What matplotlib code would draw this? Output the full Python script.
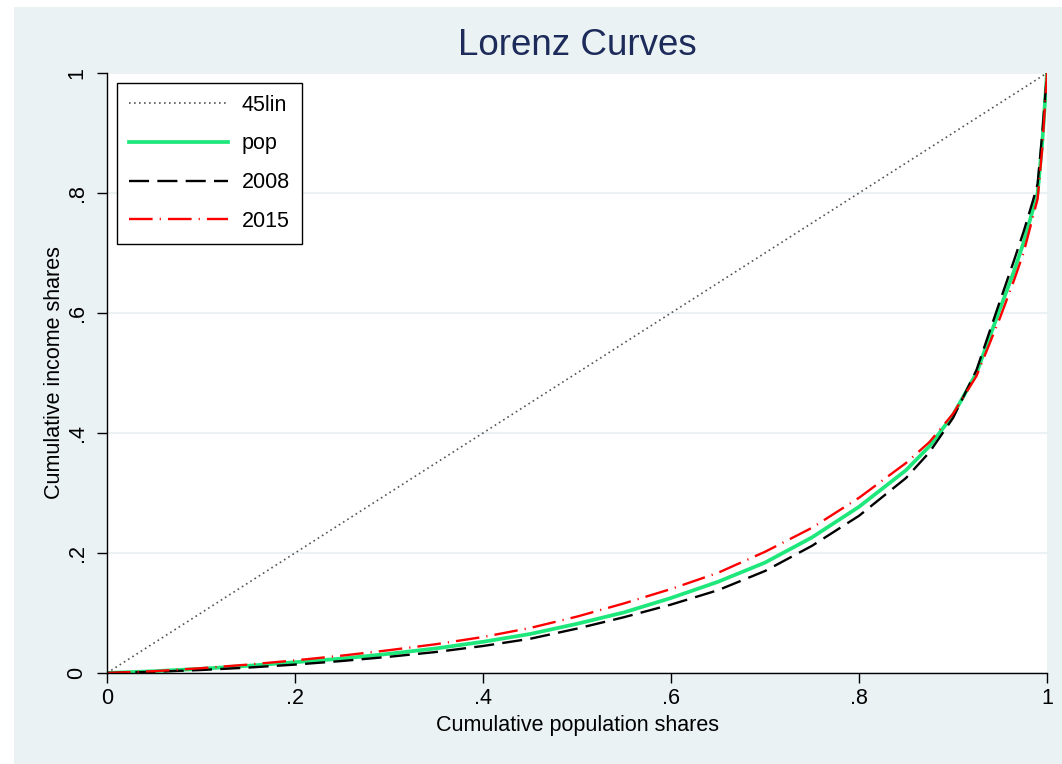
import matplotlib
matplotlib.use("Agg")
import matplotlib.pyplot as plt
from matplotlib.patches import Rectangle

plt.rcParams['font.family'] = ['Liberation Sans', 'DejaVu Sans']

# cumulative population shares (shared grid for all curves)
pop_x = [0, .05, .1, .15, .2, .25, .3, .35, .4, .45, .5, .55, .6, .65, .7,
         .75, .8, .85, .875, .9, .925, .95, .965, .975, .985, .99, .995, 1]
# cumulative income shares
pop = [0, .003, .007, .012, .018, .024, .032, .041, .052, .065, .082, .101, .125, .152, .184,
       .226, .277, .338, .378, .43, .50, .607, .670, .717, .772, .80, .885, 1]
y2008 = [0, .002, .005, .009, .014, .02, .027, .035, .045, .057, .074, .093, .114, .138, .170,
         .212, .262, .325, .368, .425, .505, .62, .688, .735, .787, .815, .90, 1]
y2015 = [0, .003, .008, .014, .021, .029, .038, .048, .060, .075, .094, .116, .140, .167, .202,
         .242, .292, .35, .385, .432, .495, .592, .655, .70, .76, .79, .875, 1]
lin45 = [0, 1]

ticks = [0, .2, .4, .6, .8, 1]
tick_labels = ['0', '.2', '.4', '.6', '.8', '1']

bg = '#eaf2f3'
W, H = 1062, 764

fig = plt.figure(figsize=(W / 100, H / 100), dpi=100)
fig.patch.set_facecolor('white')
fig.add_artist(Rectangle((14 / W, 0), 1, (H - 7) / H, transform=fig.transFigure,
                         facecolor=bg, edgecolor='none', zorder=-1))

ax = fig.add_axes([107 / W, 1 - 673 / H, 940 / W, 600 / H])
ax.set_facecolor('white')

ax.plot(lin45, lin45, color='#555555', lw=1.2, linestyle=(0, (1, 2)), label='45lin')
ax.plot(pop_x, pop, color='#1ee87c', lw=2.7, label='pop')
ax.plot(pop_x, y2008, color='black', lw=1.7, linestyle=(0, (8.5, 3.5)), label='2008')
ax.plot(pop_x, y2015, color='red', lw=1.7, linestyle=(0, (10, 3, 0.5, 3)), label='2015')

ax.set_xlim(0, 1)
ax.set_ylim(0, 1)
ax.set_xticks(ticks)
ax.set_xticklabels(tick_labels)
ax.set_yticks(ticks)
ax.set_yticklabels(tick_labels, rotation=90, va='center')
ax.tick_params(length=7, width=1, labelsize=15.5, colors='black')
ax.tick_params(axis='x', pad=4)
ax.tick_params(axis='y', pad=7)

ax.yaxis.grid(True, color=bg, lw=1.5)
ax.set_axisbelow(True)
for s in ['top', 'right']:
    ax.spines[s].set_visible(False)
for s in ['left', 'bottom']:
    ax.spines[s].set_linewidth(1.0)

ax.set_xlabel('Cumulative population shares', fontsize=15.5, labelpad=4)
ax.set_ylabel('Cumulative income shares', fontsize=15.5, labelpad=1)
ax.set_title('Lorenz Curves', fontsize=26.5, color='#1c2b5a', pad=13)

leg = ax.legend(loc='upper left', bbox_to_anchor=(10 / 940, 1 - 10 / 600), fontsize=15.5,
                frameon=True, fancybox=False, framealpha=1, edgecolor='black',
                borderaxespad=0, handlelength=4.6, handletextpad=0.65,
                labelspacing=0.82, borderpad=0.55)
leg.get_frame().set_linewidth(1.0)

fig.savefig('out.png', dpi=100)
